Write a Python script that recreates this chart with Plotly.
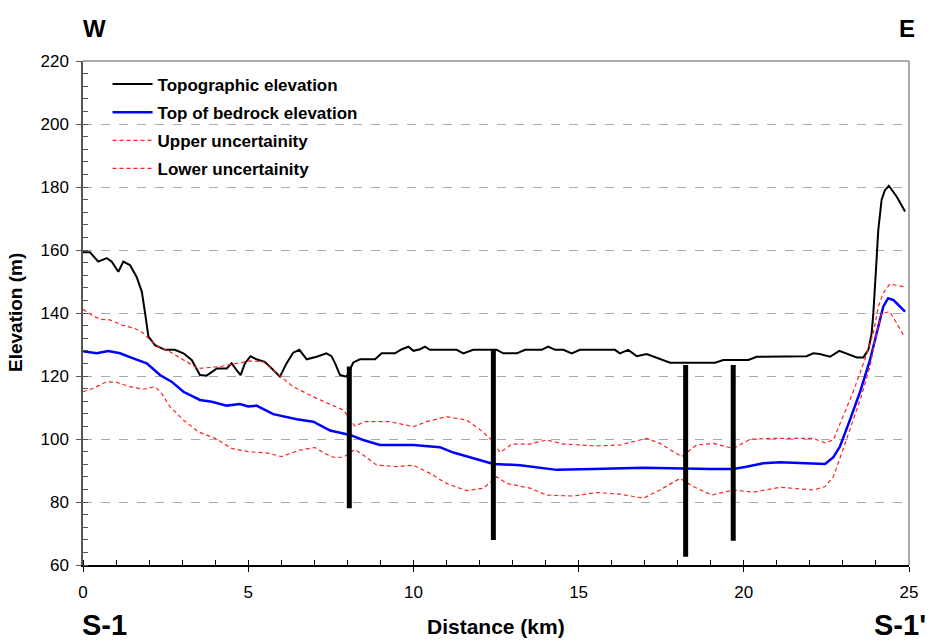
import plotly.graph_objects as go

# ---- data ----
topo_x = [0, 0.21, 0.46, 0.72, 0.87, 1.07, 1.22, 1.42, 1.62, 1.78, 1.88, 1.98, 2.18, 2.48, 2.78, 3.04, 3.29, 3.54, 3.74,
          4.05, 4.35, 4.5, 4.65, 4.77, 4.9, 5.07, 5.25, 5.5, 5.76, 5.96, 6.16, 6.36, 6.55, 6.77, 7.07, 7.37, 7.52, 7.63,
          7.78, 7.98, 8.18, 8.38, 8.84, 9.04, 9.44, 9.65, 9.85, 10.0, 10.2, 10.35, 10.5, 11.31, 11.51, 11.81, 12.52,
          12.72, 13.13, 13.38, 13.88, 14.08, 14.29, 14.54, 14.79, 15.04, 16.1, 16.25, 16.5, 16.76, 17.06, 17.36, 17.77,
          19.13, 19.38, 20.14, 20.39, 21.9, 22.1, 22.3, 22.61, 22.89, 23.11, 23.42, 23.62, 23.77, 23.87, 23.92, 24.0,
          24.07, 24.17, 24.27, 24.39, 24.63, 24.88]
topo_y = [159.3, 159.3, 156.3, 157.4, 156.3, 153.1, 156.3, 155.2, 151.5, 146.8, 139.9, 132.5, 129.8, 128.3, 128.3, 127.2,
          125.1, 120.3, 120.1, 122.4, 122.4, 124.0, 121.9, 120.3, 124.0, 126.3, 125.3, 124.5, 121.9, 119.8, 124.0, 127.4,
          128.3, 125.3, 126.1, 127.2, 126.3, 124.0, 120.3, 119.8, 124.3, 125.3, 125.3, 127.2, 127.2, 128.5, 129.3, 128.0,
          128.5, 129.3, 128.3, 128.3, 127.2, 128.3, 128.3, 127.2, 127.2, 128.3, 128.3, 129.3, 128.3, 128.3, 127.2, 128.3,
          128.3, 127.2, 128.3, 126.3, 127.0, 125.9, 124.2, 124.2, 125.1, 125.1, 126.1, 126.3, 127.2, 127.0, 126.1, 128.0,
          127.2, 125.9, 125.9, 128.3, 133.6, 139.9, 153.7, 166.3, 175.9, 179.0, 180.4, 176.9, 172.2]

bed_x = [0, 0.41, 0.77, 1.12, 1.52, 1.93, 2.33, 2.68, 3.04, 3.54, 3.9, 4.35, 4.75, 5.0, 5.25, 5.76, 6.47, 6.97, 7.48,
         7.93, 8.08, 8.48, 8.99, 10.0, 10.8, 11.21, 11.71, 12.42, 13.23, 13.83, 14.34, 15.44, 16.56, 16.96, 18.98, 19.68,
         20.08, 20.59, 21.1, 22.1, 22.46, 22.71, 22.91, 23.21, 23.52, 23.82, 23.97, 24.12, 24.22, 24.37, 24.53, 24.88]
bed_y = [127.9, 127.2, 127.9, 127.2, 125.6, 124.0, 120.3, 118.2, 115.0, 112.4, 111.8, 110.6, 111.1, 110.3, 110.6, 107.9,
         106.3, 105.5, 102.7, 101.8, 101.3, 99.7, 98.1, 98.1, 97.4, 95.7, 94.2, 92.1, 91.7, 91.0, 90.2, 90.5, 90.7, 90.9,
         90.5, 90.5, 91.2, 92.3, 92.6, 92.1, 92.1, 94.2, 97.6, 106.0, 115.0, 125.1, 131.5, 137.8, 142.0, 144.7, 144.1,
         140.4]

up_x = [0, 0.26, 0.51, 0.82, 1.17, 1.57, 1.83, 2.03, 2.28, 2.63, 3.04, 3.49, 4.15, 4.65, 5.05, 5.46, 5.76, 6.36, 7.07,
        7.48, 7.88, 8.23, 8.53, 9.29, 10.0, 10.4, 11.0, 11.61, 12.02, 12.37, 12.62, 12.98, 13.53, 14.03, 14.54, 15.55,
        16.25, 17.06, 17.46, 18.12, 18.57, 19.08, 19.68, 20.19, 20.79, 22.1, 22.46, 22.71, 23.01, 23.31, 23.66, 23.92,
        24.07, 24.22, 24.42, 24.83]
up_y = [141.2, 139.4, 138.0, 137.8, 136.2, 135.1, 133.6, 131.4, 129.3, 127.7, 125.1, 122.4, 123.0, 124.0, 124.8, 124.5,
        121.9, 116.6, 112.9, 111.1, 109.2, 104.1, 105.5, 105.5, 103.9, 105.5, 107.1, 106.0, 102.9, 99.7, 95.7, 98.4,
        98.4, 99.7, 98.4, 97.8, 98.1, 100.2, 98.6, 94.4, 98.1, 98.6, 97.0, 99.9, 100.2, 100.2, 98.8, 99.7, 107.1, 115.0,
        125.1, 133.6, 142.0, 146.3, 149.2, 148.4]

lo_x = [0, 0.31, 0.72, 1.02, 1.42, 1.83, 2.18, 2.38, 2.63, 3.04, 3.49, 4.0, 4.5, 5.05, 5.56, 6.01, 6.57, 7.02, 7.32,
        7.58, 7.88, 8.23, 8.48, 8.89, 9.49, 10.0, 10.5, 11.0, 11.61, 12.12, 12.52, 12.82, 13.53, 14.03, 14.84, 15.55,
        16.25, 16.96, 17.46, 18.07, 18.47, 19.03, 19.68, 20.29, 21.1, 22.1, 22.46, 22.71, 22.96, 23.21, 23.52, 23.82,
        23.97, 24.17, 24.42, 24.63, 24.83]
lo_y = [115.0, 116.1, 118.2, 118.0, 116.6, 115.8, 116.6, 114.5, 110.3, 106.0, 102.3, 100.2, 97.0, 95.9, 95.6, 94.4,
        96.5, 97.3, 95.4, 94.2, 94.2, 96.7, 94.9, 91.7, 91.2, 91.7, 89.1, 85.9, 83.6, 84.4, 88.0, 85.9, 84.4, 82.2, 81.9,
        83.0, 82.5, 81.2, 83.8, 87.5, 84.9, 82.2, 83.8, 83.1, 84.7, 83.8, 84.9, 88.0, 95.4, 102.9, 112.4, 123.0, 131.4,
        139.9, 140.4, 136.7, 133.0]

# boreholes: distance, top elevation, bottom elevation
bore_x = [8.06, 12.42, 18.24, 19.68]
bore_top = [123.0, 128.3, 123.5, 123.5]
bore_bot = [78.0, 67.9, 62.6, 67.7]

series_names = ["Topographic elevation", "Top of bedrock elevation", "Upper uncertainity", "Lower uncertainity"]

FONT = "Liberation Sans, Arial, sans-serif"

fig = go.Figure()

dash = "4px,3px"
fig.add_trace(go.Scatter(x=topo_x, y=topo_y, mode="lines", name=series_names[0], legendgroup="a",
                         line=dict(color="black", width=2)))
fig.add_trace(go.Scatter(x=bed_x, y=bed_y, mode="lines", name=series_names[1], legendgroup="b",
                         line=dict(color="#0000ff", width=2.5)))
fig.add_trace(go.Scatter(x=up_x, y=up_y, mode="lines", name=series_names[2], legendgroup="c",
                         line=dict(color="#ff2020", width=1.2, dash=dash)))
fig.add_trace(go.Scatter(x=lo_x, y=lo_y, mode="lines", name=series_names[3], legendgroup="d",
                         line=dict(color="#ff2020", width=1.2, dash=dash)))

for bx, bt, bb in zip(bore_x, bore_top, bore_bot):
    fig.add_trace(go.Scatter(x=[bx, bx], y=[bt, bb], mode="lines", showlegend=False, hoverinfo="skip",
                             line=dict(color="black", width=5)))

fig.update_layout(
    width=935, height=642,
    margin=dict(l=83, r=26, t=61, b=77),
    plot_bgcolor="white", paper_bgcolor="white",
    font=dict(family=FONT, color="black"),
    showlegend=True,
    legend=dict(x=0.0297, y=0.989, xanchor="left", yanchor="top", bgcolor="rgba(0,0,0,0)",
                font=dict(size=17, family=FONT, color="black", weight="bold"), tracegroupgap=3,
                itemwidth=40),
    xaxis=dict(range=[0, 25], tick0=0, dtick=5, showgrid=False, zeroline=False,
               showline=True, linecolor="black", linewidth=1.5,
               ticks="outside", ticklen=5, tickcolor="black", ticklabelstandoff=6,
               minor=dict(dtick=1, ticks="inside", ticklen=5, tickcolor="black"),
               tickfont=dict(size=17, family=FONT)),
    yaxis=dict(range=[60, 220], tick0=60, dtick=20, showgrid=True, gridcolor="#aaaaaa", griddash="dash",
               gridwidth=1, zeroline=False,
               showline=True, linecolor="#555555", linewidth=1.5,
               ticks="outside", ticklen=5, tickcolor="#555555", ticklabelstandoff=4,
               minor=dict(dtick=4, ticks="inside", ticklen=5, tickcolor="#555555", showgrid=False),
               tickfont=dict(size=17, family=FONT)),
    shapes=[
        dict(type="line", xref="paper", yref="paper", x0=0, x1=1, y0=1, y1=1,
             line=dict(color="#aaaaaa", width=2)),
        dict(type="line", xref="paper", yref="paper", x0=1, x1=1, y0=0, y1=1,
             line=dict(color="#aaaaaa", width=2)),
    ],
    annotations=[
        dict(text="<b>W</b>", xref="paper", yref="paper", x=0.0145, y=1.0635, showarrow=False,
             font=dict(size=24, family=FONT), xanchor="center", yanchor="middle"),
        dict(text="<b>E</b>", xref="paper", yref="paper", x=0.9976, y=1.0635, showarrow=False,
             font=dict(size=24, family=FONT), xanchor="center", yanchor="middle"),
        dict(text="<b>S-1</b>", xref="paper", yref="paper", x=0.0266, y=-0.119, showarrow=False,
             font=dict(size=29, family=FONT), xanchor="center", yanchor="middle"),
        dict(text="<b>S-1'</b>", xref="paper", yref="paper", x=0.989, y=-0.119, showarrow=False,
             font=dict(size=29, family=FONT), xanchor="center", yanchor="middle"),
        dict(text="<b>Distance (km)</b>", xref="paper", yref="paper", x=0.5, y=-0.123, showarrow=False,
             font=dict(size=21, family=FONT), xanchor="center", yanchor="middle"),
        dict(text="<b>Elevation (m)</b>", xref="paper", yref="paper", x=-0.0823, y=0.5, showarrow=False,
             textangle=-90, font=dict(size=19, family=FONT), xanchor="center", yanchor="middle"),
    ],
)

fig.write_html("out.html")
